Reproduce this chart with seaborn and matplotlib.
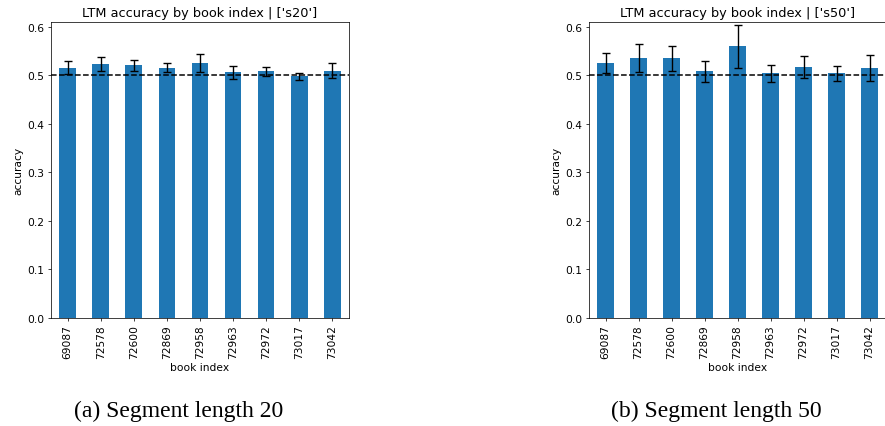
import matplotlib
matplotlib.use("Agg")
import matplotlib.pyplot as plt
import seaborn as sns
import numpy as np

books = ["69087", "72578", "72600", "72869", "72958", "72963", "72972", "73017", "73042"]
acc_s20 = [0.516, 0.523, 0.521, 0.516, 0.525, 0.506, 0.508, 0.498, 0.510]
err_s20 = [0.014, 0.014, 0.011, 0.010, 0.018, 0.013, 0.0085, 0.0075, 0.0145]
acc_s50 = [0.525, 0.535, 0.535, 0.508, 0.560, 0.504, 0.517, 0.504, 0.515]
err_s50 = [0.0205, 0.029, 0.026, 0.0225, 0.044, 0.017, 0.023, 0.016, 0.026]
titles = ["LTM accuracy by book index | ['s20']", "LTM accuracy by book index | ['s50']"]
captions = ["(a) Segment length 20", "(b) Segment length 50"]
yticks = [0.0, 0.1, 0.2, 0.3, 0.4, 0.5, 0.6]

S = 0.66   # line scale
F = 0.77   # font scale
plt.rcParams.update({
    "font.family": "DejaVu Sans",
    "axes.linewidth": 0.8 * S,
    "xtick.major.width": 0.8 * S,
    "ytick.major.width": 0.8 * S,
    "xtick.major.size": 3.5 * S,
    "ytick.major.size": 3.5 * S,
    "xtick.major.pad": 3.5 * S,
    "ytick.major.pad": 3.5 * S,
})

fig = plt.figure(figsize=(8.85, 4.27), dpi=100)
W, H = 885, 427
ax_l = fig.add_axes([51 / W, (H - 319) / H, 298 / W, 296.5 / H])
ax_r = fig.add_axes([589 / W, (H - 319) / H, 297 / W, 296.5 / H])

for ax, acc, err, title in [(ax_l, acc_s20, err_s20, titles[0]), (ax_r, acc_s50, err_s50, titles[1])]:
    sns.barplot(x=books, y=acc, ax=ax, color="#1f77b4", saturation=1, width=0.5, errorbar=None)
    ax.errorbar(np.arange(len(books)), acc, yerr=err, fmt="none", ecolor="black",
                elinewidth=1.5 * S, capsize=4.3 * S, capthick=1.5 * S)
    ax.axhline(0.5, color="black", linestyle="--", linewidth=1.5 * S * 1.1, dashes=(3.7, 1.6))
    ax.set_xlim(-0.5, len(books) - 0.5)
    ax.set_ylim(0, 0.611)
    ax.set_yticks(yticks)
    ax.set_yticklabels([f"{t:.1f}" for t in yticks])
    ax.tick_params(axis="both", labelsize=10 * F)
    ax.tick_params(axis="x", rotation=90)
    ax.set_xlabel("book index", fontsize=10 * F, labelpad=4 * S)
    ax.set_ylabel("accuracy", fontsize=10 * F, labelpad=4 * S)
    ax.set_title(title, fontsize=12 * F, pad=6 * S)
    for sp in ax.spines.values():
        sp.set_visible(True)

fig.text(178.5 / W, 1 - 411 / H, captions[0], ha="center", va="center",
         family="Liberation Serif", fontsize=17)
fig.text(716.5 / W, 1 - 411 / H, captions[1], ha="center", va="center",
         family="Liberation Serif", fontsize=17)

fig.savefig("out.png", dpi=100)
